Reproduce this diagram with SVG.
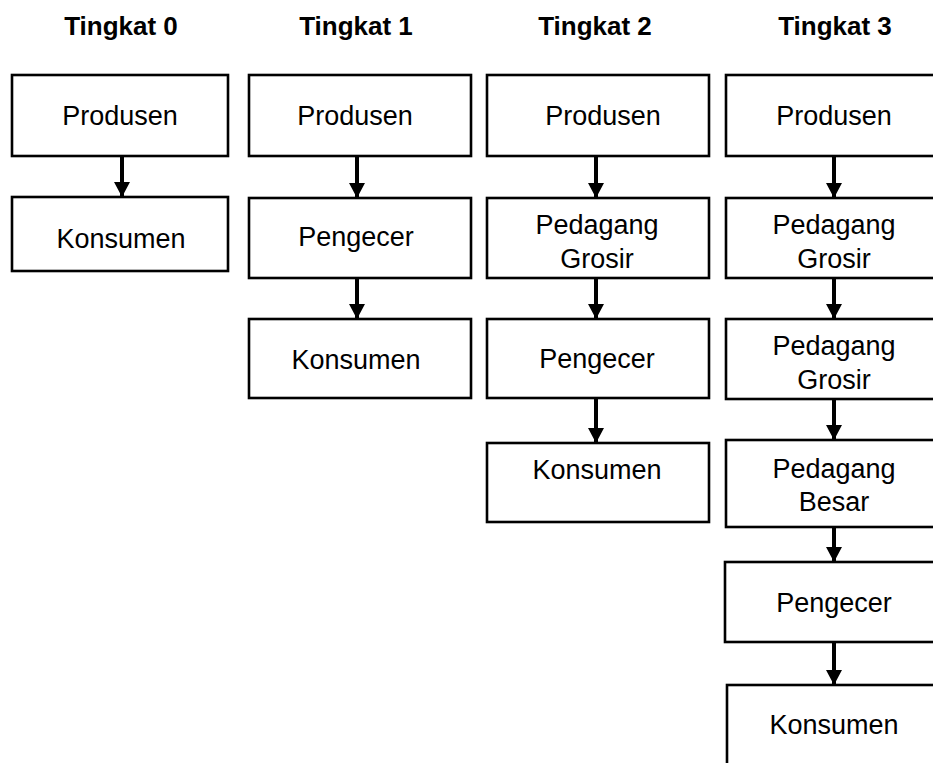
<svg xmlns="http://www.w3.org/2000/svg" width="933" height="763" viewBox="0 0 933 763">
<style>
.box{fill:#fff;stroke:#000;stroke-width:2.6}
.t{font-family:"Liberation Sans",Arial,sans-serif;font-size:27px;fill:#000;text-anchor:middle}
.h{font-family:"Liberation Sans",Arial,sans-serif;font-size:26px;font-weight:bold;fill:#000;text-anchor:middle}
.c{stroke:#000;stroke-width:4;fill:none;marker-end:url(#ah)}
</style>
<defs>
<marker id="ah" markerUnits="userSpaceOnUse" markerWidth="18" markerHeight="16" refX="15" refY="8" orient="auto">
<path d="M0,0 L15,8 L0,16 Z" fill="#000"/>
</marker>
</defs>
<rect width="933" height="763" fill="#fff"/>
<g id="titles">
<text class="h" x="121" y="35">Tingkat 0</text>
<text class="h" x="356" y="35">Tingkat 1</text>
<text class="h" x="595" y="35">Tingkat 2</text>
<text class="h" x="835" y="35">Tingkat 3</text>
</g>
<g id="connectors">
<line class="c" x1="122" y1="156" x2="122" y2="197"/>
<line class="c" x1="357" y1="156" x2="357" y2="198"/>
<line class="c" x1="357" y1="278" x2="357" y2="319"/>
<line class="c" x1="596" y1="156" x2="596" y2="198"/>
<line class="c" x1="596" y1="278" x2="596" y2="319"/>
<line class="c" x1="596" y1="398" x2="596" y2="443"/>
<line class="c" x1="834" y1="156" x2="834" y2="198"/>
<line class="c" x1="834" y1="278" x2="834" y2="319"/>
<line class="c" x1="834" y1="399" x2="834" y2="440"/>
<line class="c" x1="834" y1="527" x2="834" y2="562"/>
<line class="c" x1="834" y1="642" x2="834" y2="685"/>
</g>
<g id="t0-produsen"><rect class="box" x="12" y="75" width="216" height="81"/><text class="t" x="120" y="125">Produsen</text></g>
<g id="t0-konsumen"><rect class="box" x="12" y="197" width="216" height="74"/><text class="t" x="121" y="248">Konsumen</text></g>
<g id="t1-produsen"><rect class="box" x="249" y="75" width="222" height="81"/><text class="t" x="355" y="125">Produsen</text></g>
<g id="t1-pengecer"><rect class="box" x="249" y="198" width="222" height="80"/><text class="t" x="356" y="246">Pengecer</text></g>
<g id="t1-konsumen"><rect class="box" x="249" y="319" width="222" height="79"/><text class="t" x="356" y="369">Konsumen</text></g>
<g id="t2-produsen"><rect class="box" x="487" y="75" width="222" height="81"/><text class="t" x="603" y="125">Produsen</text></g>
<g id="t2-grosir"><rect class="box" x="487" y="198" width="222" height="80"/><text class="t" x="597" y="234">Pedagang</text><text class="t" x="597" y="268">Grosir</text></g>
<g id="t2-pengecer"><rect class="box" x="487" y="319" width="222" height="79"/><text class="t" x="597" y="368">Pengecer</text></g>
<g id="t2-konsumen"><rect class="box" x="487" y="443" width="222" height="79"/><text class="t" x="597" y="479">Konsumen</text></g>
<g id="t3-produsen"><rect class="box" x="726" y="75" width="222" height="81"/><text class="t" x="834" y="125">Produsen</text></g>
<g id="t3-grosir1"><rect class="box" x="726" y="198" width="222" height="80"/><text class="t" x="834" y="234">Pedagang</text><text class="t" x="834" y="268">Grosir</text></g>
<g id="t3-grosir2"><rect class="box" x="726" y="319" width="222" height="80"/><text class="t" x="834" y="355">Pedagang</text><text class="t" x="834" y="389">Grosir</text></g>
<g id="t3-besar"><rect class="box" x="726" y="440" width="222" height="87"/><text class="t" x="834" y="478">Pedagang</text><text class="t" x="834" y="511">Besar</text></g>
<g id="t3-pengecer"><rect class="box" x="725" y="562" width="222" height="80"/><text class="t" x="834" y="612">Pengecer</text></g>
<g id="t3-konsumen"><rect class="box" x="727" y="685" width="222" height="100"/><text class="t" x="834" y="734">Konsumen</text></g>
</svg>
